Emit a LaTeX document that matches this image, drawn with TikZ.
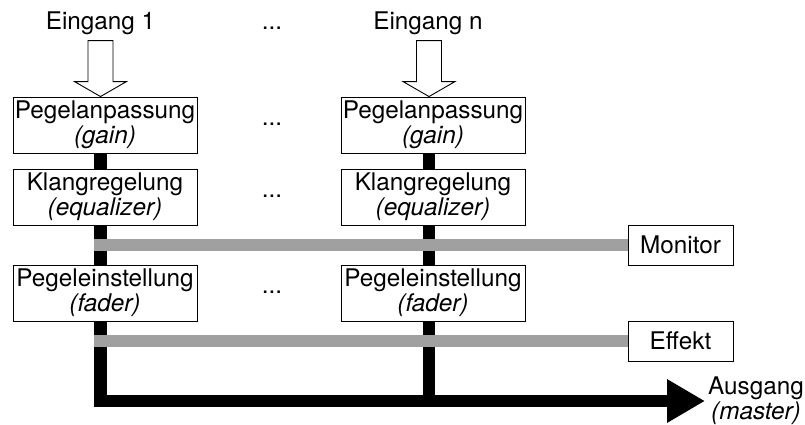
\documentclass[tikz,border=0pt]{standalone}
\usepackage{fontspec}
\setmainfont{TeX Gyre Heros}
\usetikzlibrary{calc,arrows.meta}
\newcommand{\diafont}{\fontsize{24.3}{25}\selectfont}
\begin{document}
\begin{tikzpicture}[x=1pt,y=-1pt,
  box/.style={draw,line width=0.9pt,minimum width=184pt,minimum height=56pt,inner sep=0pt,align=center,font=\diafont},
  sbox/.style={draw,line width=0.9pt,minimum width=105pt,minimum height=40pt,inner sep=0pt,font=\diafont},
  lbl/.style={inner sep=0pt,font=\diafont,anchor=base},
  blk/.style={line width=12.5pt,black},
  gry/.style={line width=12.5pt,color={rgb,255:red,160;green,160;blue,160}},
  inarrow/.style={draw,line width=0.9pt,fill=white,line join=miter}]
\useasboundingbox (0,0) rectangle (805,424);
% column reference coordinates
\coordinate (c1) at (100.5,0);
\coordinate (c2) at (429,0);
\coordinate (out) at (705,401);
% input labels
\node[lbl] (e1) at (100.5,29) {Eingang 1};
\node[lbl] (en) at (428,29) {Eingang n};
\node[lbl] (d0) at (272,29) {...};
% boxes column 1
\node[box] (g1) at (105,125) {Pegelanpassung\\\textit{(gain)}};
\node[box] (k1) at (105,197) {Klangregelung\\\textit{(equalizer)}};
\node[box] (p1) at (105,293) {Pegeleinstellung\\\textit{(fader)}};
% boxes column 2
\node[box] (g2) at (433,125) {Pegelanpassung\\\textit{(gain)}};
\node[box] (k2) at (433,197) {Klangregelung\\\textit{(equalizer)}};
\node[box] (p2) at (433,293) {Pegeleinstellung\\\textit{(fader)}};
% dots
\node[lbl] (d1) at (272,125) {...};
\node[lbl] (d2) at (272,197) {...};
\node[lbl] (d3) at (272,293) {...};
% side outputs
\node[sbox] (mon) at (680.5,245) {Monitor};
\node[sbox] (eff) at (680.5,341) {Effekt};
\node[font=\diafont,align=center,inner sep=0pt] (aus) at (756,401) {Ausgang\\\textit{(master)}};
% hollow input arrows
\foreach \n/\c in {g1/c1,g2/c2}{
  \draw[inarrow] ($(\n.north -| \c)+(-12.5,-56)$) -- ($(\n.north -| \c)+(-12.5,-15)$)
    -- ($(\n.north -| \c)+(-26,-15)$) -- (\n.north -| \c) -- ($(\n.north -| \c)+(26,-15)$)
    -- ($(\n.north -| \c)+(12.5,-15)$) -- ($(\n.north -| \c)+(12.5,-56)$) -- cycle;
}
% black signal path
\draw[blk] (g1.south -| c1) -- (k1.north -| c1);
\draw[blk] (k1.south -| c1) -- (p1.north -| c1);
\draw[blk] (g2.south -| c2) -- (k2.north -| c2);
\draw[blk] (k2.south -| c2) -- (p2.north -| c2);
\draw[blk] (p2.south -| c2) -- (out -| c2);
\draw[blk,line join=miter,-{Triangle[length=38pt,width=41pt]}] (p1.south -| c1) -- (out -| c1) -- (out);
% gray send lines
\coordinate (s1) at (93.5,0);
\draw[gry] (mon.west -| s1) -- (mon.west);
\draw[gry] (eff.west -| s1) -- (eff.west);
\end{tikzpicture}
\end{document}
